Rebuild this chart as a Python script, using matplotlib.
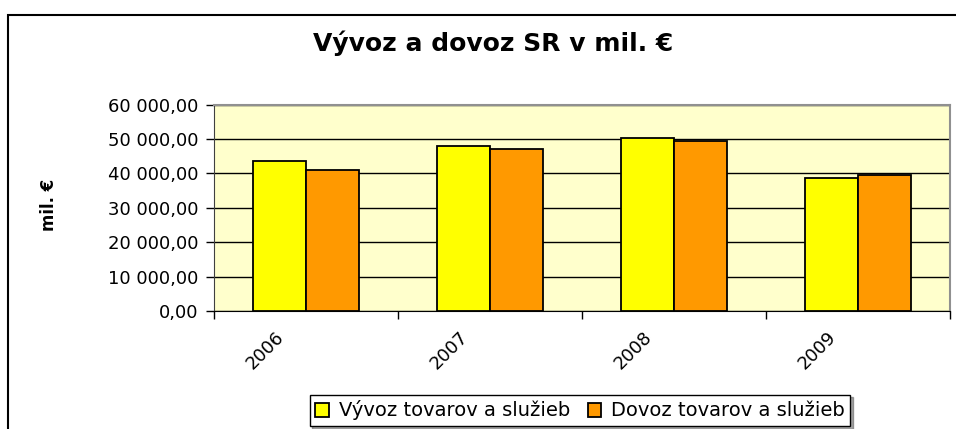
import matplotlib
matplotlib.use("Agg")
import matplotlib.pyplot as plt
import matplotlib.transforms as mtransforms
from matplotlib.patches import Rectangle
from matplotlib.ticker import FuncFormatter, FixedLocator
import numpy as np

years = ["2006", "2007", "2008", "2009"]
vyvoz = [43500, 48050, 50200, 38650]
dovoz = [40900, 47200, 49430, 39450]
series_names = ["Vývoz tovarov a služieb", "Dovoz tovarov a služieb"]

plt.rcParams["font.family"] = ["DejaVu Sans"]

W, H = 956, 429
fig = plt.figure(figsize=(W / 100, H / 100), dpi=100)

# outer chart frame (runs off the right and bottom edge)
fig.patches.append(Rectangle((8 / W, -0.05), 1.0, 1 - 15 / H + 0.05,
                             transform=fig.transFigure, fill=False,
                             edgecolor="black", linewidth=1.5))

ax = fig.add_axes([214 / W, (H - 311) / H, 736 / W, 206.5 / H])
ax.set_facecolor("#FFFFCC")

x = np.arange(len(years))
barWidth = 1 / 3.5
ax.bar(x - barWidth / 2, vyvoz, barWidth, color="#FFFF00", edgecolor="black",
       linewidth=1.3, label=series_names[0], zorder=3)
ax.bar(x + barWidth / 2, dovoz, barWidth, color="#FF9900", edgecolor="black",
       linewidth=1.3, label=series_names[1], zorder=3)

ax.set_xlim(-0.5, len(years) - 0.5)
ax.set_ylim(0, 60000)
ax.set_yticks(np.arange(0, 60001, 10000))
ax.yaxis.set_major_formatter(FuncFormatter(
    lambda v, p: f"{v:,.2f}".replace(",", " ").replace(".", ",")))
ax.grid(axis="y", color="black", linewidth=1, zorder=1)

ax.set_xticks(x)
ax.set_xticklabels(years, rotation=45, ha="right", va="top", fontsize=13)
ax.tick_params(axis="x", which="major", length=0, pad=2)
offset = mtransforms.ScaledTranslation(-18 / 100, -14 / 100, fig.dpi_scale_trans)
for lbl in ax.get_xticklabels():
    lbl.set_transform(lbl.get_transform() + offset)
ax.xaxis.set_minor_locator(FixedLocator(np.arange(-0.5, len(years), 1.0)))
ax.tick_params(axis="x", which="minor", length=6, width=1, color="black")
ax.tick_params(axis="y", length=6, width=1, labelsize=13, pad=5)

for side in ["top", "right"]:
    ax.spines[side].set_color("#909090")
    ax.spines[side].set_linewidth(1.5)
ax.spines["left"].set_color("#404040")
ax.spines["bottom"].set_color("black")

ax.set_ylabel("mil. €", fontsize=12, fontweight="bold")
ax.yaxis.set_label_coords(58 / W, 1 - 205 / H, transform=fig.transFigure)

fig.text(493 / W, 1 - 43 / H, "Vývoz a dovoz SR v mil. €", ha="center",
         va="center", fontsize=18, fontweight="bold")

leg = fig.legend(loc="center", bbox_to_anchor=(580 / W, 1 - 410.5 / H), ncol=2,
                 fontsize=14, frameon=True, fancybox=False, shadow=True,
                 handlelength=0.7, handleheight=0.7, handletextpad=0.5,
                 columnspacing=0.9, borderpad=0.3, borderaxespad=0)
leg.get_frame().set_edgecolor("black")
leg.get_frame().set_linewidth(1)

fig.savefig("out.png", dpi=100)
